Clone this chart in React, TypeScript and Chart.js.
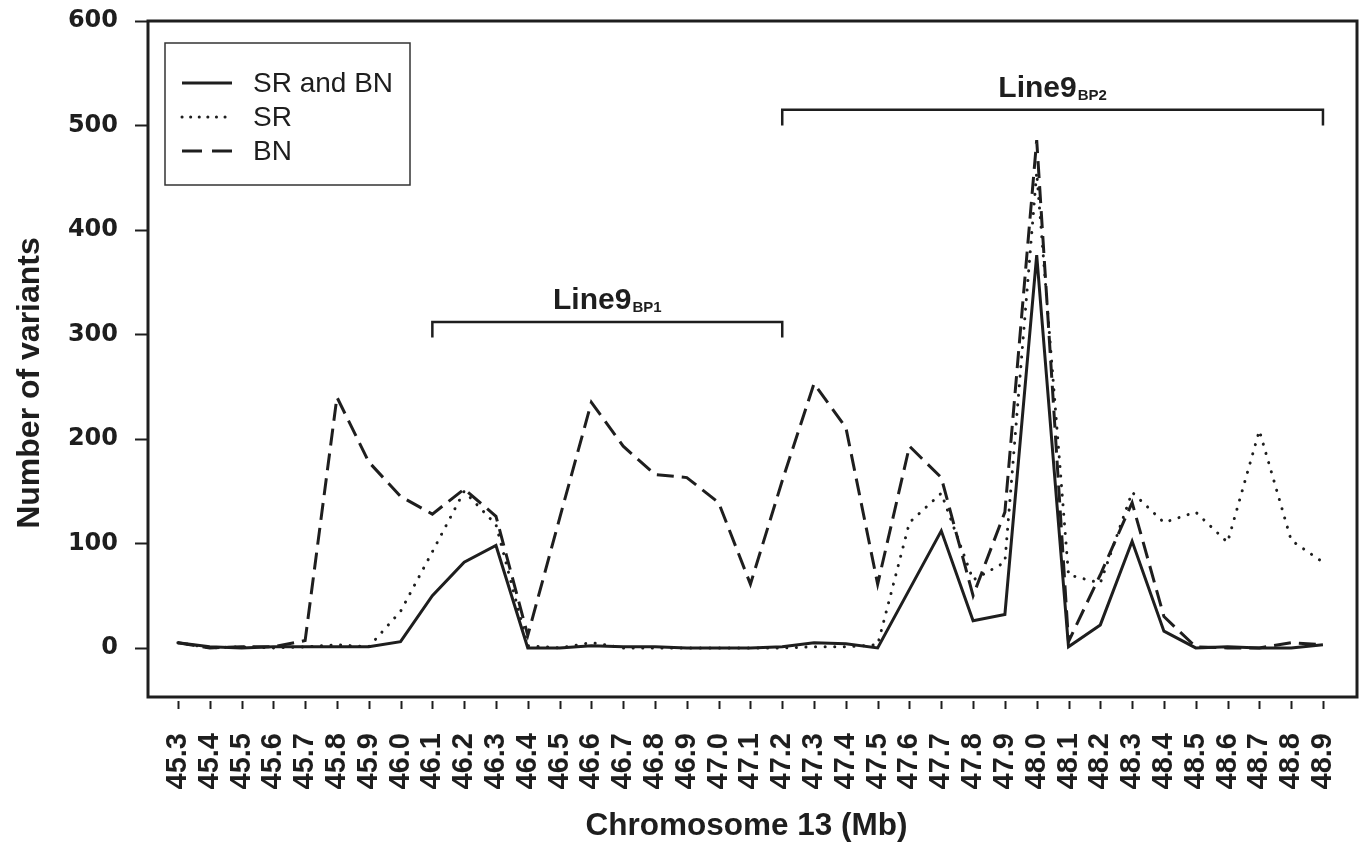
import React, { useEffect, useRef } from "react";
import { Chart, registerables } from "chart.js";

Chart.register(...registerables);

// ---- data ----
const positions = [
  45.3, 45.4, 45.5, 45.6, 45.7, 45.8, 45.9, 46.0, 46.1, 46.2, 46.3, 46.4, 46.5,
  46.6, 46.7, 46.8, 46.9, 47.0, 47.1, 47.2, 47.3, 47.4, 47.5, 47.6, 47.7, 47.8,
  47.9, 48.0, 48.1, 48.2, 48.3, 48.4, 48.5, 48.6, 48.7, 48.8, 48.9,
];

const srAndBn = [
  5, 1, 0, 1, 1, 1, 1, 6, 50, 82, 98, 0, 0, 2, 1, 1, 0, 0, 0, 1, 5, 4, 0, 56,
  112, 26, 32, 376, 1, 22, 102, 16, 0, 1, 0, 0, 3,
];

const sr = [
  5, 0, 1, 0, 1, 3, 1, 35, 92, 150, 118, 2, 0, 5, 0, 0, 0, 0, 0, 0, 1, 1, 3, 120,
  148, 65, 82, 455, 70, 62, 149, 120, 130, 101, 208, 103, 82,
];

const bn = [
  5, 0, 1, 1, 7, 240, 178, 145, 128, 152, 126, 12, 124, 235, 193, 166, 163, 139,
  61, 160, 253, 211, 61, 193, 163, 50, 130, 486, 6, 70, 139, 30, 1, 0, 0, 5, 3,
];

const yTicks = [0, 100, 200, 300, 400, 500, 600];

const seriesNames = ["SR and BN", "SR", "BN"];

const bracketLabels = ["Line9", "Line9"];
const bracketSubs = ["BP1", "BP2"];
const bracketFrom = [46.1, 47.2];
const bracketTo = [47.2, 48.9];
const bracketLevel = [312, 515];
const bracketDrop = [297, 500];

const xTitle = "Chromosome 13 (Mb)";
const yTitle = "Number of variants";

// ---- style ----
const INK = "#1e1e1e";
const FAMILY = '"Liberation Sans", Arial, Helvetica, sans-serif';
const HEAVY = '"DejaVu Sans", "Liberation Sans", sans-serif';
const SOLID: number[] = [];
const DOTTED = [0.1, 9.5];
const DASHED = [17, 8];

const decorPlugin = {
  id: "decor",
  afterDraw(chart: any) {
    const { ctx, chartArea: ca, scales } = chart;
    const x = scales.x;
    const y = scales.y;
    ctx.save();
    ctx.strokeStyle = INK;
    ctx.fillStyle = INK;
    ctx.lineCap = "butt";

    // frame
    ctx.lineWidth = 3;
    ctx.strokeRect(ca.left, ca.top, ca.right - ca.left, ca.bottom - ca.top);

    // y tick marks
    ctx.lineWidth = 2;
    yTicks.forEach((v) => {
      const py = Math.round(y.getPixelForValue(v)) + 0.5;
      ctx.beginPath();
      ctx.moveTo(ca.left - 13, py);
      ctx.lineTo(ca.left, py);
      ctx.stroke();
    });
    // x tick marks
    positions.forEach((v) => {
      const px = Math.round(x.getPixelForValue(v)) + 0.5;
      ctx.beginPath();
      ctx.moveTo(px, ca.bottom + 4);
      ctx.lineTo(px, ca.bottom + 12);
      ctx.stroke();
    });

    // brackets
    for (let i = 0; i < bracketLabels.length; i++) {
      const x1 = x.getPixelForValue(bracketFrom[i]);
      const x2 = x.getPixelForValue(bracketTo[i]);
      const yl = y.getPixelForValue(bracketLevel[i]);
      const yd = y.getPixelForValue(bracketDrop[i]);
      ctx.lineWidth = 2.5;
      ctx.setLineDash([]);
      ctx.beginPath();
      ctx.moveTo(x1, yd);
      ctx.lineTo(x1, yl);
      ctx.lineTo(x2, yl);
      ctx.lineTo(x2, yd);
      ctx.stroke();

      ctx.font = `bold 30px ${FAMILY}`;
      const w1 = ctx.measureText(bracketLabels[i]).width;
      ctx.font = `bold 15px ${FAMILY}`;
      const w2 = ctx.measureText(bracketSubs[i]).width;
      const total = w1 + 1 + w2;
      const sx = (x1 + x2) / 2 - total / 2;
      ctx.textAlign = "left";
      ctx.textBaseline = "alphabetic";
      ctx.font = `bold 30px ${FAMILY}`;
      ctx.fillText(bracketLabels[i], sx, yl - 12.5);
      ctx.font = `bold 15px ${FAMILY}`;
      ctx.fillText(bracketSubs[i], sx + w1 + 1, yl - 9.5);
    }

    // legend
    const lx = ca.left + 17;
    const ly = ca.top + 22;
    ctx.lineWidth = 1.5;
    ctx.strokeStyle = "#333";
    ctx.strokeRect(lx, ly, 245, 142);
    const dashes = [SOLID, [0.1, 8.5], [20, 10]];
    const rowY = [ly + 40, ly + 74, ly + 108];
    ctx.strokeStyle = INK;
    for (let i = 0; i < seriesNames.length; i++) {
      ctx.lineWidth = 3;
      ctx.setLineDash(dashes[i]);
      ctx.lineCap = i === 1 ? "round" : "butt";
      ctx.beginPath();
      ctx.moveTo(lx + 17, rowY[i]);
      ctx.lineTo(lx + 67, rowY[i]);
      ctx.stroke();
      ctx.setLineDash([]);
      ctx.font = `28px ${FAMILY}`;
      ctx.textAlign = "left";
      ctx.textBaseline = "middle";
      ctx.fillText(seriesNames[i], lx + 88, rowY[i] + 1);
    }

    // axis titles
    ctx.font = `bold 31.5px ${FAMILY}`;
    ctx.textAlign = "center";
    ctx.textBaseline = "middle";
    ctx.fillText(xTitle, (ca.left + ca.right) / 2 - 6, 826);
    ctx.save();
    ctx.font = `bold 32px ${FAMILY}`;
    ctx.translate(30, 383);
    ctx.rotate(-Math.PI / 2);
    ctx.fillText(yTitle, 0, 0);
    ctx.restore();

    ctx.restore();
  },
};

export default function App() {
  const ref = useRef<HTMLCanvasElement | null>(null);

  useEffect(() => {
    if (!ref.current) return;
    const toPoints = (arr: number[]) =>
      positions.map((p, i) => ({ x: p, y: arr[i] }));
    const chart = new Chart(ref.current, {
      type: "line",
      data: {
        datasets: [
          {
            label: seriesNames[1],
            data: toPoints(sr),
            borderColor: INK,
            borderWidth: 3,
            borderDash: DOTTED,
            borderCapStyle: "round",
            pointRadius: 0,
            tension: 0,
            fill: false,
          },
          {
            label: seriesNames[2],
            data: toPoints(bn),
            borderColor: INK,
            borderWidth: 3,
            borderDash: DASHED,
            pointRadius: 0,
            tension: 0,
            fill: false,
          },
          {
            label: seriesNames[0],
            data: toPoints(srAndBn),
            borderColor: INK,
            borderWidth: 3,
            borderDash: SOLID,
            pointRadius: 0,
            tension: 0,
            fill: false,
          },
        ],
      },
      options: {
        animation: false,
        responsive: false,
        devicePixelRatio: 1,
        layout: { padding: { top: 21, right: 4, left: 0, bottom: 0 } },
        plugins: {
          legend: { display: false },
          tooltip: { enabled: false },
          title: { display: false },
        },
        scales: {
          x: {
            type: "linear",
            min: 45.206,
            max: 49.007,
            afterBuildTicks: (s: any) => {
              s.ticks = positions.map((v) => ({ value: v }));
            },
            afterFit: (s: any) => {
              s.height = 149;
              s.paddingLeft = 0;
              s.paddingRight = 0;
              s.paddingTop = 0;
              s.paddingBottom = 0;
            },
            grid: { display: false, drawTicks: false },
            border: { display: false },
            ticks: {
              autoSkip: false,
              minRotation: 90,
              maxRotation: 90,
              padding: 36,
              color: INK,
              font: { family: FAMILY, size: 29, weight: "bold" },
              callback: (v: any) => Number(v).toFixed(1),
            },
          },
          y: {
            type: "linear",
            min: -47,
            max: 600,
            afterBuildTicks: (s: any) => {
              s.ticks = yTicks.map((v) => ({ value: v }));
            },
            afterFit: (s: any) => {
              s.width = 148;
              s.paddingLeft = 0;
              s.paddingRight = 0;
              s.paddingTop = 0;
              s.paddingBottom = 0;
            },
            grid: { display: false, drawTicks: false },
            border: { display: false },
            ticks: {
              padding: 30,
              color: INK,
              font: { family: HEAVY, size: 24, weight: "bold" },
              callback: (v: any) => String(v),
            },
          },
        },
      },
      plugins: [decorPlugin],
    } as any);
    return () => chart.destroy();
  }, []);

  return (
    <div
      style={{
        position: "fixed",
        left: 0,
        top: 0,
        width: 1361,
        height: 846,
        background: "#fff",
      }}
    >
      <canvas ref={ref} width={1361} height={846} style={{ display: "block" }} />
    </div>
  );
}
